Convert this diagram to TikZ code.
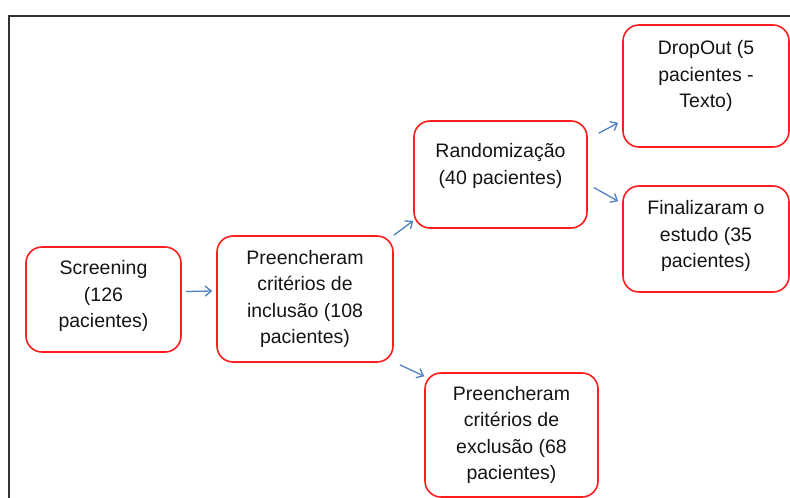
\documentclass[tikz,border=0pt]{standalone}
\usepackage{fontspec}
\setmainfont{Liberation Sans}
\usetikzlibrary{arrows.meta}
\definecolor{boxred}{RGB}{255,30,30}
\definecolor{arrblue}{RGB}{79,129,189}
\definecolor{txt}{RGB}{20,20,20}
\tikzset{
  stagebox/.style={draw=boxred, line width=1.6pt, rounded corners=16pt, inner sep=0pt},
  stagetext/.style={align=center, text=txt, inner sep=0pt,
     font=\fontsize{19.5pt}{26.5pt}\selectfont},
  flowarrow/.style={draw=arrblue, line width=1.3pt,
     -{Straight Barb[length=6pt,width=10pt,line width=1.3pt]}},
  framestroke/.style={draw=black!80, line width=1.6pt}
}
\begin{document}
\begin{tikzpicture}[x=1pt,y=-1pt]
\useasboundingbox (0,0) rectangle (790,498);
% frame
\coordinate (fbl) at (9,500);
\coordinate (ftl) at (9,16);
\coordinate (ftr) at (792,16);
\draw[framestroke] (fbl) -- (ftl) -- (ftr);
% boxes
\node[stagebox, minimum width=155pt, minimum height=105pt] (scr) at (103.5,299.5) {};
\node[stagebox, minimum width=176pt, minimum height=126pt] (inc) at (305,299) {};
\node[stagebox, minimum width=173pt, minimum height=107pt] (ran) at (500.5,174.5) {};
\node[stagebox, minimum width=166pt, minimum height=122pt] (drop) at (706,86) {};
\node[stagebox, minimum width=166pt, minimum height=106pt] (fin) at (706,239) {};
\node[stagebox, minimum width=173pt, minimum height=124pt] (exc) at (511.5,435) {};
% texts
\node[stagetext] (scrt) at (103.5,296) {Screening\\(126\\pacientes)};
\node[stagetext] (inct) at (305,299) {Preencheram\\critérios de\\inclusão (108\\pacientes)};
\node[stagetext] (rant) at (500.5,166) {Randomização\\(40 pacientes)};
\node[stagetext] (dropt) at (706,76) {DropOut (5\\pacientes -\\Texto)};
\node[stagetext] (fint) at (706,236) {Finalizaram o\\estudo (35\\pacientes)};
\node[stagetext] (exct) at (511.5,435) {Preencheram\\critérios de\\exclusão (68\\pacientes)};
% arrows
\draw[flowarrow] ([shift={(4pt,8pt)}]scr.east) -- ([shift={(-4pt,8pt)}]inc.west);
\draw[flowarrow] ([shift={(0pt,0pt)}]inc.north east) -- ([shift={(0pt,8pt)}]ran.south west);
\draw[flowarrow] ([shift={(6pt,-2pt)}]inc.south east) -- ([shift={(0pt,-4pt)}]exc.north west);
\draw[flowarrow] ([shift={(11pt,-13pt)}]ran.north east) -- ([shift={(-4pt,25pt)}]drop.south west);
\draw[flowarrow] ([shift={(6pt,-13pt)}]ran.east) -- ([shift={(-4pt,-16pt)}]fin.north west);
\end{tikzpicture}
\end{document}
